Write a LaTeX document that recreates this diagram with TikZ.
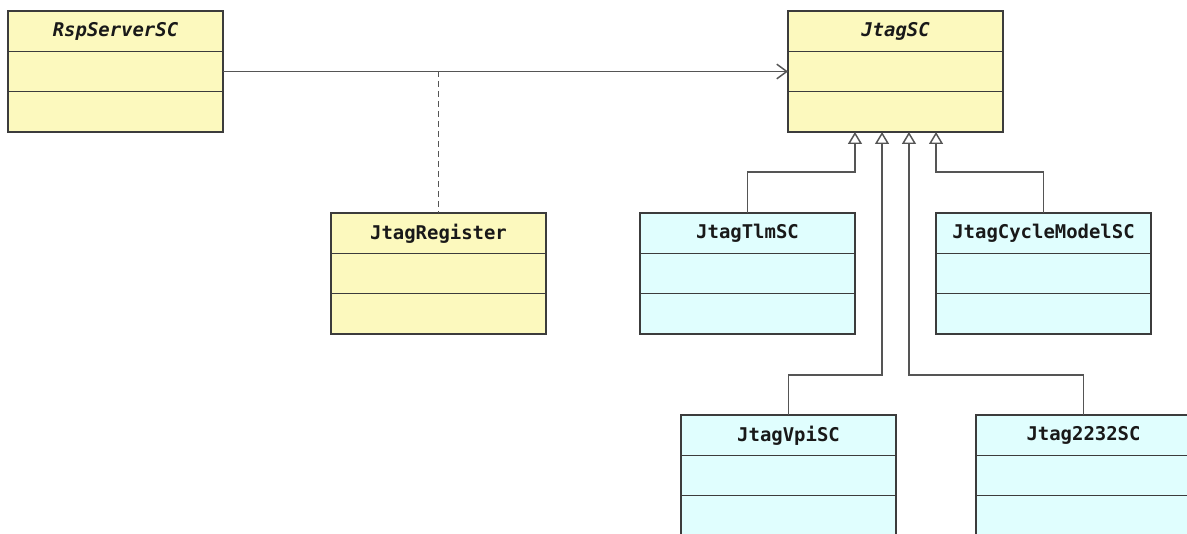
\documentclass[tikz,border=0pt]{standalone}
\usepackage{fontspec}
\setmonofont{DejaVu Sans Mono}
\usetikzlibrary{arrows.meta,calc}

\definecolor{abstractfill}{RGB}{252,249,190}
\definecolor{concretefill}{RGB}{224,254,254}
\definecolor{boxline}{RGB}{60,60,60}
\definecolor{wire}{RGB}{85,85,85}
\definecolor{labeltext}{RGB}{25,25,25}

\tikzset{
  classbox/.style={draw=boxline, line width=1.35pt, rectangle, inner sep=0pt, outer sep=0pt,
    minimum width=161.25pt, minimum height=90.75pt, anchor=north west},
  divider/.style={draw=boxline, line width=1.35pt},
  classname/.style={font=\ttfamily\bfseries\fontsize{14.2}{16}\selectfont, text=labeltext, inner sep=0pt},
  abstractname/.style={classname, font=\ttfamily\bfseries\itshape\fontsize{14.2}{16}\selectfont},
  assoc/.style={draw=wire, line width=1.1pt, -{Straight Barb[length=7.5pt, width=11pt, line width=1.1pt]}},
  dependency/.style={draw=wire, line width=1.1pt, dashed, dash pattern=on 4.5pt off 3pt},
  generalize/.style={draw=wire, line width=1.1pt, -{Triangle[open, length=9pt, width=10.5pt, line width=1.1pt, fill=white]}},
}

% class box: name, left, top, fill, title style, title
\newcommand\umlclass[6]{%
  \node[classbox, fill=#4] (#1) at (#2,#3) {};
  \draw[divider] (#2,{#3+40.5}) -- ({#2+215},{#3+40.5});
  \draw[divider] (#2,{#3+80.5}) -- ({#2+215},{#3+80.5});
  \node[#5] (#1-title) at ({#2+107.5},{#3+20.5}) {#6};
}

\begin{document}
\begin{tikzpicture}[x=0.75pt, y=-0.75pt]
  \useasboundingbox (0,0) rectangle (1187,534);
  \clip (0,0) rectangle (1187,534);
  \fill[white] (0,0) rectangle (1187,534);

  % abstract classes and the register
  \umlclass{rsp}{8}{11}{abstractfill}{abstractname}{RspServerSC}
  \umlclass{jtag}{788}{11}{abstractfill}{abstractname}{JtagSC}
  \umlclass{reg}{331}{213}{abstractfill}{classname}{JtagRegister}

  % concrete implementations
  \umlclass{tlm}{640}{213}{concretefill}{classname}{JtagTlmSC}
  \umlclass{cyc}{936}{213}{concretefill}{classname}{JtagCycleModelSC}
  \umlclass{vpi}{681}{415}{concretefill}{classname}{JtagVpiSC}
  \umlclass{ftdi}{976}{415}{concretefill}{classname}{Jtag2232SC}

  % association with its association class
  \draw[assoc] (rsp.east) -- (jtag.west);
  \coordinate (assocmid) at (reg.north |- rsp.east);
  \draw[dependency] (assocmid) -- (reg.north);

  % generalization ports under JtagSC
  \coordinate (p1) at ([xshift=-30.4pt]jtag.south);
  \coordinate (p2) at ([xshift=-10.1pt]jtag.south);
  \coordinate (p3) at ([xshift=10.1pt]jtag.south);
  \coordinate (p4) at ([xshift=30.4pt]jtag.south);

  \draw[generalize] (tlm.north) -- ++(0,-41) -| (p1);
  \draw[generalize] (vpi.north) -- ++(0,-40) -| (p2);
  \draw[generalize] (ftdi.north) -- ++(0,-40) -| (p3);
  \draw[generalize] (cyc.north) -- ++(0,-41) -| (p4);
\end{tikzpicture}
\end{document}
